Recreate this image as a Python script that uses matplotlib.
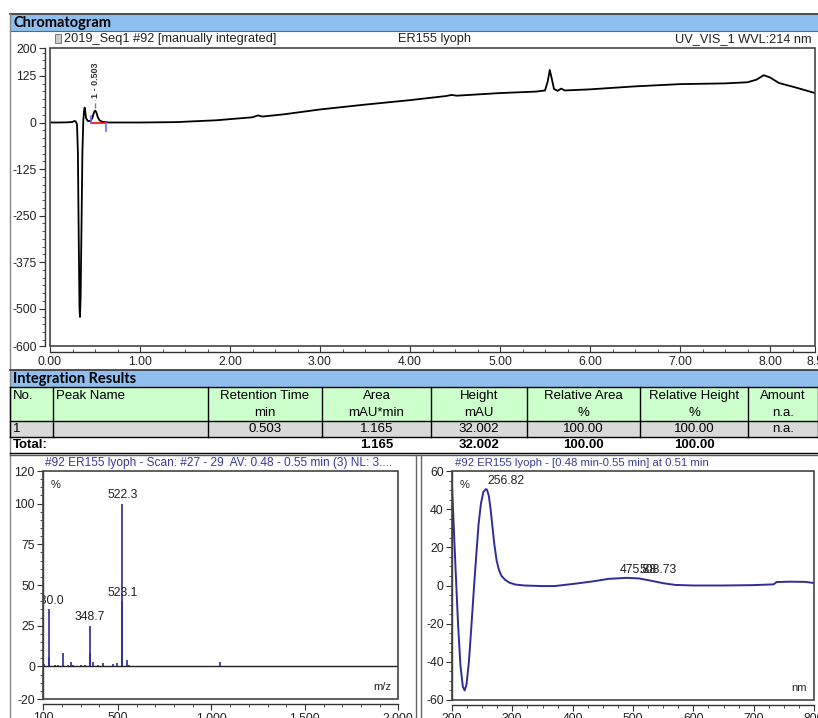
import matplotlib
matplotlib.use('Agg')
import matplotlib.pyplot as plt
from matplotlib.patches import Rectangle
from matplotlib.ticker import FixedLocator, MultipleLocator, FixedFormatter

plt.rcParams['font.family'] = ['Liberation Sans', 'DejaVu Sans']

# ---------------- data ----------------
chrom_title_left = "2019_Seq1 #92 [manually integrated]"
chrom_title_mid = "ER155 lyoph"
chrom_title_right = "UV_VIS_1 WVL:214 nm"

chrom_time = [0.00, 0.10, 0.20, 0.25, 0.27, 0.285, 0.30, 0.31, 0.32, 0.328, 0.333, 0.34,
              0.35, 0.36, 0.37, 0.378, 0.385, 0.392, 0.40, 0.42, 0.45, 0.47, 0.49, 0.503,
              0.515, 0.53, 0.55, 0.58, 0.65, 0.80, 1.00, 1.40, 1.85, 2.00, 2.25, 2.31,
              2.36, 2.60, 3.00, 3.50, 4.00, 4.40, 4.46, 4.52, 5.00, 5.40, 5.50, 5.53,
              5.553, 5.575, 5.60, 5.64, 5.68, 5.72, 6.00, 6.50, 7.00, 7.50, 7.75, 7.85,
              7.93, 8.00, 8.10, 8.30, 8.50]
chrom_mau = [0, 0, 0.5, 1.5, 4, 3, -5, -80, -330, -500, -522, -470,
             -280, -80, 5, 30, 40, 30, 12, 4, 4, 12, 28, 32,
             27, 15, 6, 2, 0, 0, 0, 1, 6, 9, 14, 19,
             16, 22, 35, 48, 60, 71, 74, 72, 79, 83, 86, 110,
             141, 118, 90, 85, 91, 86, 89, 97, 103, 105, 108, 115,
             127, 121, 106, 93, 79]

peak_no = 1
peak_rt = 0.503
peak_start, peak_end = 0.45, 0.62

chrom_yticks = [200, 125, 0, -125, -250, -375, -500, -600]
chrom_xticks = [0, 1, 2, 3, 4, 5, 6, 7, 8, 8.5]
chrom_xlabels = ['0.00', '1.00', '2.00', '3.00', '4.00', '5.00', '6.00', '7.00', '8.00', '8.5']

table_headers = ['No.', 'Peak Name', 'Retention Time', 'Area', 'Height',
                 'Relative Area', 'Relative Height', 'Amount']
table_units = ['', '', 'min', 'mAU*min', 'mAU', '%', '%', 'n.a.']
table_row = ['1', '', '0.503', '1.165', '32.002', '100.00', '100.00', 'n.a.']
table_total = ['Total:', '', '', '1.165', '32.002', '100.00', '100.00', '']

ms_title = "#92 ER155 lyoph - Scan: #27 - 29  AV: 0.48 - 0.55 min (3) NL: 3...."
ms_mz = [100, 104, 130, 133, 163, 180, 204, 230, 248, 261, 300, 325, 350, 352, 368, 394,
         421, 471, 496, 522.3, 523.1, 550, 560, 600, 650, 700, 750, 1046]
ms_int = [5, 1.5, 35, 6, 1, 1, 8.5, 1, 2.5, 1, 0.8, 1, 25, 8, 3, 1,
          2, 1.5, 2, 100, 40, 4, 1, 0.5, 0.5, 0.4, 0.4, 2.5]
ms_labels = [(130.0, 35, '130.0'), (348.7, 25, '348.7'), (522.3, 100, '522.3'), (523.1, 40, '523.1')]
ms_yticks = [120, 100, 75, 50, 25, 0, -20]
ms_xticks = [100, 500, 1000, 1500, 2000]
ms_xlabels = ['100', '500', '1,000', '1,500', '2,000']

uv_title = "#92 ER155 lyoph - [0.48 min-0.55 min] at 0.51 min"
uv_nm = [200, 203, 206, 210, 214, 218, 221, 224, 228, 232, 236, 240, 244, 248, 252,
         256, 258, 261, 264, 267, 270, 274, 278, 282, 288, 295, 305, 320, 350, 370,
         400, 430, 460, 490, 510, 530, 550, 570, 600, 650, 700, 733, 738, 760, 785, 800]
uv_pct = [52, 30, 8, -20, -42, -53, -55, -52, -40, -22, -3, 15, 32, 43, 49,
          50.5, 50.2, 47, 40, 31, 22, 13, 8, 5, 3, 1.5, 0.5, 0, -0.3, -0.3,
          0.8, 2, 3.5, 4, 3.7, 2.5, 1.2, 0.3, 0, 0, 0.2, 0.6, 1.8, 2, 1.9, 1.3]
uv_labels = [(256.82, 51, '256.82'), (475.88, 4.5, '475.88'), (508.73, 4.5, '508.73')]
uv_yticks = [60, 40, 20, 0, -20, -40, -60]
uv_xticks = [200, 300, 400, 500, 600, 700, 800]

# ---------------- layout ----------------
W, H = 818, 718
fig = plt.figure(figsize=(W / 100, H / 100), dpi=100)
HEAD_BLUE = '#8fbfee'
GREEN = '#ccffcc'
GRAY = '#d9d9d9'
TXT = '#222222'
TITLE_BLUE = '#3a3a9c'
LINE_BLUE = '#2e2e9a'
TFS = 9.5


def px_axes(x0, y0, x1, y1, **kw):
    return fig.add_axes([x0 / W, 1 - y1 / H, (x1 - x0) / W, (y1 - y0) / H], **kw)


bg = fig.add_axes([0, 0, 1, 1])
bg.set_xlim(0, W)
bg.set_ylim(H, 0)
bg.axis('off')

# Chromatogram header
bg.add_patch(Rectangle((10, 14), 808, 17, facecolor=HEAD_BLUE, edgecolor='none'))
bg.plot([10, 818], [14, 14], color='#333333', lw=1.2)
bg.plot([10, 818], [31, 31], color='#666666', lw=0.8)
bg.text(13, 23, 'Chromatogram', fontsize=10.5, fontweight='bold', family=['Lato', 'DejaVu Sans'],
        va='center', ha='left', color='black')
bg.plot([10, 10], [14, 718], color='#888888', lw=1)
# title row
bg.add_patch(Rectangle((55, 34), 6, 9, facecolor='#cccccc', edgecolor='#666666', lw=0.6))
bg.text(64, 39, chrom_title_left, fontsize=9.2, va='center', ha='left', color=TXT)
bg.text(435, 39, chrom_title_mid, fontsize=9.2, va='center', ha='center', color=TXT)
bg.text(812, 39, chrom_title_right, fontsize=9.2, va='center', ha='right', color=TXT)

# Integration results header
bg.add_patch(Rectangle((10, 370), 808, 17, facecolor=HEAD_BLUE, edgecolor='none'))
bg.plot([10, 818], [370, 370], color='#333333', lw=1.2)
bg.text(13, 379, 'Integration Results', fontsize=10.5, fontweight='bold', family=['Lato', 'DejaVu Sans'],
        va='center', ha='left', color='black')

col_edges = [10, 53, 208, 322, 431, 527, 640, 748, 818]
row_edges = [387, 421, 437, 453]
bg.add_patch(Rectangle((10, row_edges[0]), 808, row_edges[1] - row_edges[0], facecolor=GREEN, edgecolor='none'))
bg.add_patch(Rectangle((10, row_edges[1]), 808, row_edges[2] - row_edges[1], facecolor=GRAY, edgecolor='none'))
for y in row_edges:
    bg.plot([10, 818], [y, y], color='black', lw=1)
for x in col_edges:
    bg.plot([x, x], [row_edges[0], row_edges[2]], color='black', lw=1)
for i, (h, u) in enumerate(zip(table_headers, table_units)):
    x0, x1 = col_edges[i], col_edges[i + 1]
    if i < 2:
        bg.text(x0 + 3, 396, h, fontsize=TFS, va='center', ha='left', color='black')
    else:
        xc = (x0 + x1) / 2
        bg.text(xc, 396, h, fontsize=TFS, va='center', ha='center', color='black')
        bg.text(xc, 413, u, fontsize=TFS, va='center', ha='center', color='black')
for i, v in enumerate(table_row):
    x0, x1 = col_edges[i], col_edges[i + 1]
    if i < 2:
        bg.text(x0 + 3, 429, v, fontsize=TFS, va='center', ha='left', color='black')
    else:
        bg.text((x0 + x1) / 2, 429, v, fontsize=TFS, va='center', ha='center', color='black')
for i, v in enumerate(table_total):
    x0, x1 = col_edges[i], col_edges[i + 1]
    if i == 0:
        bg.text(x0 + 3, 445, v, fontsize=TFS, fontweight='bold', va='center', ha='left', color='black')
    elif v:
        bg.text((x0 + x1) / 2, 445, v, fontsize=TFS, fontweight='bold', va='center', ha='center', color='black')

# bottom separators
bg.plot([10, 818], [454.5, 454.5], color='#555555', lw=1)
bg.plot([416, 416], [454.5, 718], color='#666666', lw=1)
bg.plot([421, 421], [454.5, 718], color='#666666', lw=1)
bg.text(45, 463, ms_title, fontsize=8.6, va='center', ha='left', color=TITLE_BLUE)
bg.text(455, 463, uv_title, fontsize=8.2, va='center', ha='left', color=TITLE_BLUE)


def style_axis(ax, left_off, bottom_off):
    ax.spines['left'].set_position(('outward', left_off * 0.72))
    ax.spines['bottom'].set_position(('outward', bottom_off * 0.72))
    for s in ax.spines.values():
        s.set_color('#333333')
        s.set_linewidth(1)
    ax.spines['top'].set_visible(False)
    ax.spines['right'].set_visible(False)
    ax.add_patch(Rectangle((0, 0), 1, 1, transform=ax.transAxes, fill=False,
                           edgecolor='#444444', lw=1.2, clip_on=False, zorder=5))
    ax.tick_params(axis='both', which='major', labelsize=8.8, labelcolor=TXT, color='#333333',
                   length=4, width=0.8, pad=2)
    ax.tick_params(axis='both', which='minor', color='#333333', length=2, width=0.6)


# ---------------- chromatogram ----------------
ax = px_axes(50, 48, 815, 346)
ax.plot(chrom_time, chrom_mau, color='black', lw=1.3)
ax.set_xlim(0, 8.5)
ax.set_ylim(-600, 200)
style_axis(ax, 5, 6)
ax.yaxis.set_major_locator(FixedLocator(chrom_yticks))
ax.yaxis.set_major_formatter(FixedFormatter([str(v) for v in chrom_yticks]))
ax.yaxis.set_minor_locator(MultipleLocator(125 / 6))
ax.xaxis.set_major_locator(FixedLocator(chrom_xticks))
ax.xaxis.set_major_formatter(FixedFormatter(chrom_xlabels))
ax.xaxis.set_minor_locator(MultipleLocator(0.25))
ax.tick_params(axis='x', which='both', direction='in')
ax.tick_params(axis='x', which='major', pad=3)
# integration marks
ax.plot([peak_start, peak_end], [0, 0], color='red', lw=1.2)
ax.plot([peak_start, peak_start], [0, 18], color='#6b6bff', lw=1.2)
ax.plot([peak_end, peak_end], [0, -22], color='#6b6bff', lw=1.2)
ax.plot([peak_rt, peak_rt], [40, 60], color='#6b6bff', lw=1, ls='--')
ax.text(peak_rt, 66, f'{peak_no} - {peak_rt:.3f}', rotation=90, fontsize=6.5, fontweight='bold',
        ha='center', va='bottom', color='#333333')

# ---------------- mass spectrum ----------------
ax2 = px_axes(43.3, 471, 398.3, 699)
ax2.vlines(ms_mz, 0, ms_int, color=LINE_BLUE, lw=1.2)
ax2.axhline(0, color='#222222', lw=1)
ax2.set_xlim(100, 2000)
ax2.set_ylim(-20, 120)
style_axis(ax2, 0, 5)
ax2.yaxis.set_major_locator(FixedLocator(ms_yticks))
ax2.yaxis.set_major_formatter(FixedFormatter([str(v) for v in ms_yticks]))
ax2.yaxis.set_minor_locator(MultipleLocator(5))
ax2.xaxis.set_major_locator(FixedLocator(ms_xticks))
ax2.xaxis.set_major_formatter(FixedFormatter(ms_xlabels))
ax2.xaxis.set_minor_locator(MultipleLocator(100))
for mz, it, lab in ms_labels:
    ax2.text(mz, it + 1.5, lab, fontsize=8.8, ha='center', va='bottom', color=TXT, clip_on=True)
ax2.text(0.02, 0.96, '%', transform=ax2.transAxes, fontsize=8, ha='left', va='top', color=TXT)
ax2.text(0.98, 0.03, 'm/z', transform=ax2.transAxes, fontsize=8, ha='right', va='bottom', color=TXT)

# ---------------- UV spectrum ----------------
ax3 = px_axes(452, 471, 814, 700)
ax3.plot(uv_nm, uv_pct, color=LINE_BLUE, lw=1.4)
ax3.set_xlim(200, 800)
ax3.set_ylim(-60, 60)
style_axis(ax3, 0, 5)
ax3.yaxis.set_major_locator(FixedLocator(uv_yticks))
ax3.yaxis.set_major_formatter(FixedFormatter([str(v) for v in uv_yticks]))
ax3.yaxis.set_minor_locator(MultipleLocator(5))
ax3.xaxis.set_major_locator(FixedLocator(uv_xticks))
ax3.xaxis.set_major_formatter(FixedFormatter([str(v) for v in uv_xticks]))
ax3.xaxis.set_minor_locator(MultipleLocator(25))
for nm, v, lab in uv_labels:
    ax3.text(nm + 2, v + 0.5, lab, fontsize=8.8, ha='left', va='bottom', color=TXT)
ax3.text(0.02, 0.96, '%', transform=ax3.transAxes, fontsize=8, ha='left', va='top', color=TXT)
ax3.text(0.98, 0.03, 'nm', transform=ax3.transAxes, fontsize=8, ha='right', va='bottom', color=TXT)

fig.savefig('out.png', dpi=100)
